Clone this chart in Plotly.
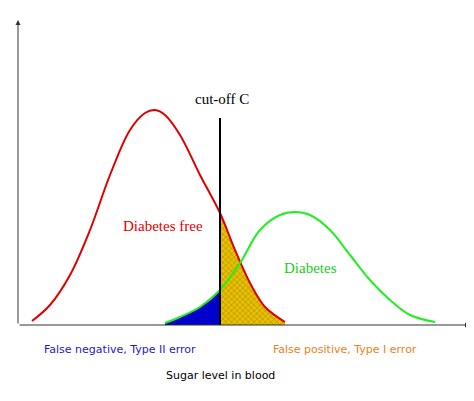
import plotly.graph_objects as go

red_x = [32, 50, 70, 90, 110, 130, 145, 155, 165, 180, 200, 220, 235, 250, 265, 285]
red_y = [4, 20, 50, 95, 150, 195, 212, 215, 210, 190, 150, 112, 75, 42, 18, 3]
green_x = [165, 180, 200, 220, 240, 260, 280, 295, 310, 330, 350, 370, 390, 410, 435]
green_y = [2, 8, 18, 35, 62, 95, 110, 113, 110, 95, 70, 45, 25, 10, 3]
cutoff = 220

fig = go.Figure()
bx = [x for x in green_x if x <= cutoff]
by = green_y[:len(bx)]
fig.add_trace(go.Scatter(x=bx, y=by, fill='tozeroy', mode='none', fillcolor='#0000cc'))
yx = [x for x in red_x if x >= cutoff]
yy = red_y[len(red_x)-len(yx):]
fig.add_trace(go.Scatter(x=yx, y=yy, fill='tozeroy', mode='none', fillcolor='#e8c000',
                         fillpattern=dict(shape='x', fgcolor='#333300', bgcolor='#e8c000', size=4, solidity=0.2)))
fig.add_trace(go.Scatter(x=red_x, y=red_y, mode='lines', line=dict(color='#e00000', width=2, shape='spline')))
fig.add_trace(go.Scatter(x=green_x, y=green_y, mode='lines', line=dict(color='#22ee22', width=2, shape='spline')))
fig.add_trace(go.Scatter(x=[cutoff, cutoff], y=[0, 207], mode='lines', line=dict(color='black', width=2)))

ann = [
    dict(x=18, y=305, ax=18, ay=0, axref='x', ayref='y', showarrow=True, arrowhead=2, arrowwidth=1, arrowcolor='#333', text=''),
    dict(x=470, y=0, ax=18, ay=0, axref='x', ayref='y', showarrow=True, arrowhead=2, arrowwidth=1, arrowcolor='#333', text=''),
    dict(x=222, y=226, text='cut-off C', font=dict(family='Liberation Serif', size=15, color='black')),
    dict(x=163, y=99, text='Diabetes free', font=dict(family='Liberation Serif', size=15, color='#e00000')),
    dict(x=310, y=57, text='Diabetes', font=dict(family='Liberation Serif', size=15, color='#22cc22')),
    dict(x=120, y=-24, text='False negative, Type II error', font=dict(family='DejaVu Sans', size=11, color='#1a1acc')),
    dict(x=345, y=-24, text='False positive, Type I error', font=dict(family='DejaVu Sans', size=11, color='#f08020')),
    dict(x=220, y=-50, text='Sugar level in blood', font=dict(family='DejaVu Sans', size=11, color='black')),
]
for a in ann:
    a.setdefault('showarrow', False)
    a['xref'] = 'x'; a['yref'] = 'y'
fig.update_layout(width=474, height=401, margin=dict(l=0, r=0, t=0, b=0), showlegend=False,
                  plot_bgcolor='white', paper_bgcolor='white', annotations=ann,
                  xaxis=dict(range=[8, 482], visible=False),
                  yaxis=dict(range=[-84, 317], visible=False))
fig.write_html("out.html")
